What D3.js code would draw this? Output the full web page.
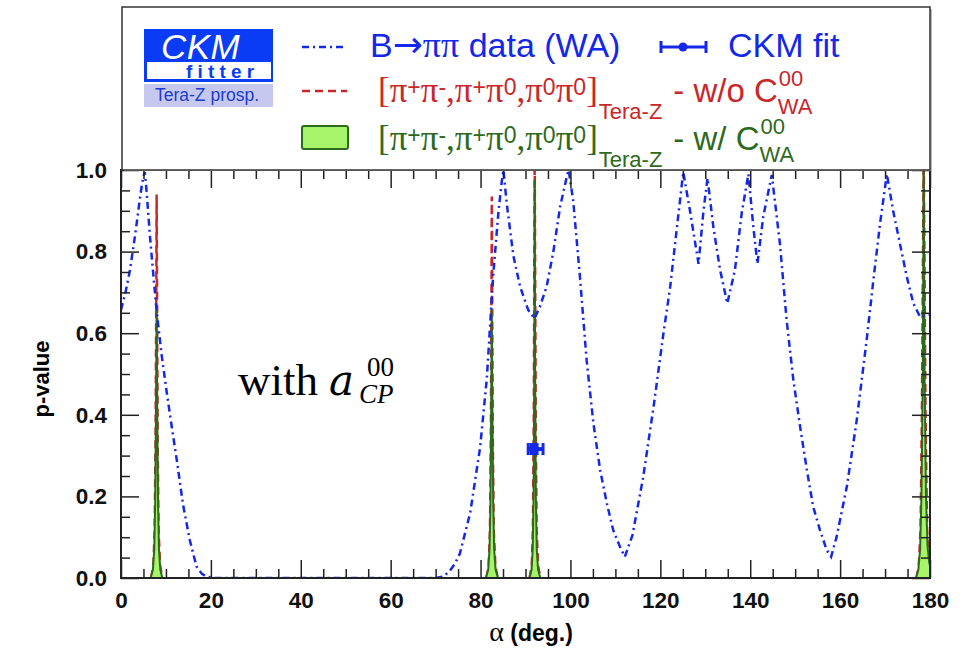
<!DOCTYPE html>
<html>
<head>
<meta charset="utf-8">
<script src="https://cdn.jsdelivr.net/npm/d3@7"></script>
<style>
  body { margin: 0; background: #fff; }
  svg { display: block; }
</style>
</head>
<body>
<div id="wrapper"></div>
<script>
// B->pipi world average scan: [alpha (deg), p-value]
const waScan = [
  [0,0.657],[1,0.70],[2,0.755],[3,0.83],[3.5,0.87],[4.2,0.93],[4.6,0.96],[5.0,0.985],[5.3,0.995],
  [5.6,0.96],[6.5,0.83],[7.3,0.73],[7.9,0.657],[9,0.55],[10.2,0.453],[11.3,0.37],[12.4,0.29],
  [13.8,0.18],[15.3,0.093],[16.8,0.028],[18,0.01],[19.1,0.003],[21,0],[70,0],[71.5,0.003],
  [73,0.015],[74.3,0.035],[75.4,0.06],[77.7,0.16],[79.9,0.32],[81.4,0.49],[82.8,0.74],[84.0,0.90],
  [84.7,0.97],[85.1,1.0],[85.8,0.92],[87.3,0.79],[88.8,0.714],[90.6,0.657],[92.0,0.636],[93.2,0.665],
  [94.7,0.714],[96.2,0.80],[97.7,0.91],[99.2,0.984],[99.6,1.0],[100.6,0.926],[102.1,0.74],
  [103.6,0.534],[105.1,0.38],[106.6,0.265],[108.1,0.183],[109.5,0.118],[111.0,0.077],[112.1,0.052],
  [113.8,0.105],[116.2,0.248],[118.5,0.42],[120.7,0.60],[122.2,0.714],[123.7,0.86],[125.1,0.995],
  [126.6,0.90],[128.5,0.77],[129.6,0.90],[130.5,0.98],[131.8,0.86],[133.3,0.755],[134.9,0.673],
  [136.6,0.755],[138.1,0.894],[139.6,0.99],[140.7,0.86],[141.6,0.77],[142.9,0.886],[144.8,0.988],
  [146.6,0.82],[148.1,0.632],[149.6,0.485],[151.1,0.371],[152.6,0.265],[154.0,0.175],[155.5,0.118],
  [157.0,0.069],[158.0,0.052],[159.2,0.10],[161.5,0.224],[163.7,0.387],[165.9,0.583],[167.4,0.73],
  [168.9,0.87],[170.4,0.99],[171.8,0.90],[173.3,0.82],[174.8,0.74],[176.3,0.673],[177.8,0.64],
  [179.7,0.645],[180,0.645]
];

// Tera-Z prospect without C00 (red dashed), one array per peak
const teraNoC_8 = [[6.7,0],[7.2,0.03],[7.5,0.12],[7.7,0.35],[7.85,0.7],[7.93,0.94],[8.02,0.7],[8.15,0.35],[8.35,0.12],[8.7,0.03],[9.2,0]];
const teraNoC_82 = [[81.3,0],[81.8,0.03],[82.1,0.12],[82.3,0.35],[82.43,0.7],[82.5,0.935],[82.58,0.7],[82.72,0.35],[82.92,0.12],[83.3,0.03],[83.8,0]];
const teraNoC_92 = [[90.9,0],[91.4,0.03],[91.65,0.12],[91.85,0.4],[91.97,0.8],[92.05,1.05],[92.13,0.8],[92.27,0.4],[92.47,0.12],[92.8,0.03],[93.3,0]];
const teraNoC_178 = [[177.0,0],[177.5,0.03],[177.9,0.12],[178.2,0.4],[178.45,0.8],[178.6,1.05],[178.75,0.8],[179.0,0.4],[179.35,0.12],[179.7,0.04],[180,0.02]];

// Tera-Z prospect with C00 (green filled)
const teraWithC = [
  [0,0],[6.6,0],[7.1,0.02],[7.4,0.07],[7.6,0.18],[7.78,0.4],[7.93,0.66],[8.07,0.4],[8.25,0.18],[8.45,0.07],[8.75,0.02],[9.2,0],
  [81.2,0],[81.7,0.02],[82.0,0.07],[82.2,0.18],[82.36,0.4],[82.5,0.657],[82.64,0.4],[82.82,0.18],[83.02,0.07],[83.35,0.02],[83.9,0],
  [90.9,0],[91.35,0.02],[91.6,0.07],[91.8,0.2],[91.95,0.5],[92.05,0.975],[92.15,0.5],[92.3,0.2],[92.5,0.07],[92.8,0.02],[93.3,0],
  [176.9,0],[177.4,0.02],[177.8,0.07],[178.1,0.2],[178.4,0.5],[178.6,1.05],[178.8,0.5],[179.1,0.2],[179.45,0.08],[179.8,0.04],[180,0.03]
];

// CKM fit point
const ckmFit = { alpha: 92.25, err: 1.65, p: 0.316 };

const xMajor = [0,20,40,60,80,100,120,140,160,180];
const xMinor = d3.range(0, 181, 5).filter(v => v % 20 !== 0);
const yMajor = [0,0.2,0.4,0.6,0.8,1.0];
const yMinor = d3.range(0, 1.001, 0.05).map(v => +v.toFixed(2)).filter(v => Math.round(v*100) % 20 !== 0);

const dims = { width: 960, height: 655, left: 121, right: 930, top: 170, bottom: 578 };

const sans = "'Liberation Sans', Arial, Helvetica, sans-serif";
const serif = "'Liberation Serif', 'Times New Roman', serif";
const blue = "#1428ea";
const red = "#c8282a";
const dkGreen = "#2e6a1c";
const ltGreen = "#a6f46a";
const frameCol = "#222";

const svg = d3.select("#wrapper").append("svg")
  .attr("width", dims.width)
  .attr("height", dims.height);

const xScale = d3.scaleLinear().domain([0, 180]).range([dims.left, dims.right]);
const yScale = d3.scaleLinear().domain([0, 1]).range([dims.bottom, dims.top]);

svg.append("clipPath").attr("id", "plotClip")
  .append("rect")
  .attr("x", dims.left).attr("y", dims.top)
  .attr("width", dims.right - dims.left).attr("height", dims.bottom - dims.top);

const plot = svg.append("g").attr("clip-path", "url(#plotClip)");

const line = d3.line().x(d => xScale(d[0])).y(d => yScale(d[1]));
const area = d3.area().x(d => xScale(d[0])).y0(yScale(0)).y1(d => yScale(d[1]));

// red dashed peaks
[teraNoC_8, teraNoC_82, teraNoC_92, teraNoC_178].forEach(pk => {
  plot.append("path")
    .attr("d", line(pk))
    .attr("fill", "none")
    .attr("stroke", red)
    .attr("stroke-width", 2.5)
    .attr("stroke-dasharray", "8,5");
});

// green filled
plot.append("path")
  .attr("d", area(teraWithC))
  .attr("fill", ltGreen)
  .attr("stroke", dkGreen)
  .attr("stroke-width", 2)
  .attr("stroke-linejoin", "round");

// blue WA curve
plot.append("path")
  .attr("d", line(waScan))
  .attr("fill", "none")
  .attr("stroke", blue)
  .attr("stroke-width", 2.5)
  .attr("stroke-dasharray", "7,4,2,4");

// CKM fit marker
const fitG = svg.append("g").attr("fill", blue).attr("stroke", blue);
const fx0 = xScale(ckmFit.alpha - ckmFit.err), fx1 = xScale(ckmFit.alpha + ckmFit.err), fy = yScale(ckmFit.p);
fitG.append("line").attr("x1", fx0).attr("x2", fx1).attr("y1", fy).attr("y2", fy).attr("stroke-width", 4);
[fx0, fx1].forEach(fx => fitG.append("line").attr("x1", fx).attr("x2", fx).attr("y1", fy - 6).attr("y2", fy + 6).attr("stroke-width", 3));
fitG.append("rect").attr("x", xScale(ckmFit.alpha) - 6).attr("y", fy - 6).attr("width", 9).attr("height", 12).attr("stroke", "none");

// axes
function styleAxis(g) {
  g.select(".domain").remove();
  g.selectAll(".tick line").attr("stroke", frameCol).attr("stroke-width", 1.5);
  g.selectAll("text").attr("font-family", sans).attr("font-weight", "bold").attr("font-size", 22.5).attr("fill", "#111");
}

svg.append("g").attr("transform", `translate(0,${dims.bottom})`)
  .call(d3.axisBottom(xScale).tickValues(xMajor).tickSize(-18).tickPadding(14).tickFormat(d3.format("d")))
  .call(styleAxis);
svg.append("g").attr("transform", `translate(0,${dims.bottom})`)
  .call(d3.axisBottom(xScale).tickValues(xMinor).tickSize(-9).tickFormat(""))
  .call(styleAxis);
svg.append("g").attr("transform", `translate(0,${dims.top})`)
  .call(d3.axisTop(xScale).tickValues(xMajor).tickSize(-18).tickFormat(""))
  .call(styleAxis);
svg.append("g").attr("transform", `translate(0,${dims.top})`)
  .call(d3.axisTop(xScale).tickValues(xMinor).tickSize(-9).tickFormat(""))
  .call(styleAxis);

svg.append("g").attr("transform", `translate(${dims.left},0)`)
  .call(d3.axisLeft(yScale).tickValues(yMajor).tickSize(-18).tickPadding(14).tickFormat(d3.format(".1f")))
  .call(styleAxis);
svg.append("g").attr("transform", `translate(${dims.left},0)`)
  .call(d3.axisLeft(yScale).tickValues(yMinor).tickSize(-9).tickFormat(""))
  .call(styleAxis);
svg.append("g").attr("transform", `translate(${dims.right},0)`)
  .call(d3.axisRight(yScale).tickValues(yMajor).tickSize(-18).tickFormat(""))
  .call(styleAxis);
svg.append("g").attr("transform", `translate(${dims.right},0)`)
  .call(d3.axisRight(yScale).tickValues(yMinor).tickSize(-9).tickFormat(""))
  .call(styleAxis);

// frame
svg.append("rect")
  .attr("x", dims.left).attr("y", dims.top)
  .attr("width", dims.right - dims.left).attr("height", dims.bottom - dims.top)
  .attr("fill", "none").attr("stroke", frameCol).attr("stroke-width", 2);

// axis titles
svg.append("text")
  .attr("transform", "translate(49,379) rotate(-90)")
  .attr("text-anchor", "middle")
  .attr("font-family", sans).attr("font-weight", "bold").attr("font-size", 22)
  .text("p-value");

const xt = svg.append("text")
  .attr("x", 531).attr("y", 641)
  .attr("text-anchor", "middle")
  .attr("font-family", sans).attr("font-weight", "bold").attr("font-size", 23);
xt.append("tspan").attr("font-family", serif).attr("font-weight", "normal").attr("font-size", 28).text("α");
xt.append("tspan").text(" (deg.)");

// "with a_CP^00"
svg.append("text").attr("x", 238).attr("y", 395).attr("font-family", serif).attr("font-size", 45).attr("fill", "#000").text("with");
svg.append("text").attr("x", 329).attr("y", 395).attr("font-family", "'DejaVu Serif', serif").attr("font-style", "italic")
  .attr("font-size", 42).attr("fill", "#000").text("a");
svg.append("text").attr("x", 367).attr("y", 376).attr("font-family", serif).attr("font-size", 27).text("00");
svg.append("text").attr("x", 359).attr("y", 403).attr("font-family", serif).attr("font-style", "italic").attr("font-size", 27).text("CP");

// legend box
svg.append("rect")
  .attr("x", 124).attr("y", 9).attr("width", 808).attr("height", 162)
  .attr("fill", "#bbb");
svg.append("rect")
  .attr("x", 122).attr("y", 7).attr("width", 808).attr("height", 163)
  .attr("fill", "#fff").attr("stroke", "#333").attr("stroke-width", 1.5);

// logo
const logo = svg.append("g");
logo.append("rect").attr("x", 144).attr("y", 29).attr("width", 129).attr("height", 53).attr("fill", "#0a3cf5");
logo.append("rect").attr("x", 147).attr("y", 62).attr("width", 124).attr("height", 17).attr("fill", "#fff");
logo.append("rect").attr("x", 144).attr("y", 84).attr("width", 129).attr("height", 23).attr("fill", "#c6c8f0");
logo.append("text").attr("x", 161).attr("y", 59).attr("font-family", sans).attr("font-style", "italic")
  .attr("font-size", 35).attr("letter-spacing", 0.5).attr("fill", "#fff").text("CKM");
logo.append("text").attr("x", 186).attr("y", 78).attr("font-family", sans).attr("font-weight", "bold")
  .attr("font-size", 19).attr("letter-spacing", 5.2).attr("fill", "#0a3cf5").text("fitter");
logo.append("text").attr("x", 155).attr("y", 101).attr("font-family", sans)
  .attr("font-size", 17.5).attr("fill", "#1a3bd0").text("Tera-Z prosp.");

// legend symbols
svg.append("line").attr("x1", 302).attr("x2", 347).attr("y1", 47).attr("y2", 47)
  .attr("stroke", blue).attr("stroke-width", 2.5).attr("stroke-dasharray", "7,4,2,4");
svg.append("line").attr("x1", 302).attr("x2", 347).attr("y1", 91).attr("y2", 91)
  .attr("stroke", red).attr("stroke-width", 2.5).attr("stroke-dasharray", "8,5");
svg.append("rect").attr("x", 302).attr("y", 126).attr("width", 46).attr("height", 23).attr("rx", 2)
  .attr("fill", ltGreen).attr("stroke", dkGreen).attr("stroke-width", 2);
const lf = svg.append("g").attr("stroke", blue).attr("fill", blue);
lf.append("line").attr("x1", 661).attr("x2", 706).attr("y1", 47).attr("y2", 47).attr("stroke-width", 3);
[661, 706].forEach(cx => lf.append("line").attr("x1", cx).attr("x2", cx).attr("y1", 41).attr("y2", 53).attr("stroke-width", 3));
lf.append("circle").attr("cx", 683).attr("cy", 47).attr("r", 4.5).attr("stroke", "none");

// legend texts
function richText(x, y, parts, color) {
  const t = svg.append("text").attr("x", x).attr("y", y).attr("fill", color);
  let cur = 0;
  parts.forEach(p => {
    t.append("tspan")
      .attr("dy", (p.s || 0) - cur)
      .attr("font-family", p.f)
      .attr("font-size", p.z)
      .text(p.t);
    cur = p.s || 0;
  });
  return t;
}

richText(370, 57, [
  { t: "B", f: sans, z: 34 },
  { t: "→", f: "'DejaVu Sans', sans-serif", z: 36 },
  { t: "ππ", f: serif, z: 36 },
  { t: " data (WA)", f: sans, z: 34 }
], blue);
richText(728, 57, [{ t: "CKM fit", f: sans, z: 34 }], blue);

function pionRow(y, color, suffix) {
  const sup = -7;
  const pz = 35, sz = 23;
  const bracket = richText(378, y, [
    { t: "[π", f: serif, z: pz },
    { t: "+", f: sans, z: sz, s: sup },
    { t: "π", f: serif, z: pz },
    { t: "-", f: sans, z: sz, s: sup },
    { t: ",π", f: serif, z: pz },
    { t: "+", f: sans, z: sz, s: sup },
    { t: "π", f: serif, z: pz },
    { t: "0", f: sans, z: sz, s: sup },
    { t: ",π", f: serif, z: pz },
    { t: "0", f: sans, z: sz, s: sup },
    { t: "π", f: serif, z: pz },
    { t: "0", f: sans, z: sz, s: sup },
    { t: "]", f: serif, z: pz }
  ], color);
  const bb = bracket.node().getBBox();
  const subX = Math.max(bb.x + bb.width + 1, 598);
  const sub = svg.append("text").attr("x", subX).attr("y", y + 17)
    .attr("font-family", sans).attr("font-size", 22).attr("fill", color).text("Tera-Z");
  const sb = sub.node().getBBox();
  const mainX = sb.x + sb.width + 11;
  const main = svg.append("text").attr("x", mainX).attr("y", y)
    .attr("font-family", sans).attr("font-size", 33).attr("fill", color).text(suffix);
  const mb = main.node().getComputedTextLength() + mainX;
  svg.append("text").attr("x", mb + 1).attr("y", y - 16)
    .attr("font-family", sans).attr("font-size", 22).attr("fill", color).text("00");
  svg.append("text").attr("x", mb).attr("y", y + 12)
    .attr("font-family", sans).attr("font-size", 22).attr("fill", color).text("WA");
}
pionRow(102, red, "- w/o C");
pionRow(150, dkGreen, "- w/ C");
</script>
</body>
</html>
